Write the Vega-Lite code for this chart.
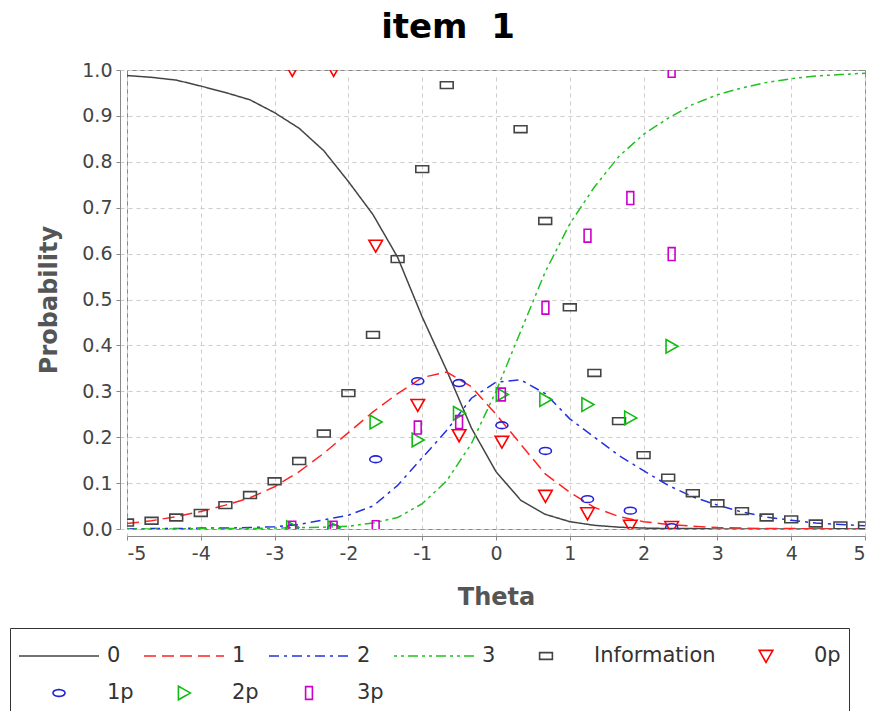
{
  "$schema": "https://vega.github.io/schema/vega-lite/v6.json",
  "width": 738,
  "height": 459,
  "autosize": {"type": "none"},
  "padding": {"left": 127, "top": 70, "right": 10, "bottom": 182},
  "background": "white",
  "title": {"text": "item \u00a01", "fontSize": 34, "font": "DejaVu Sans", "fontWeight": "bold", "color": "black", "anchor": "middle", "dx": -48, "dy": 39, "offset": 28, "baseline": "alphabetic"},
  "datasets": {
    "curves": [
      {"t":-5,"p":0.988,"s":"0"},{"t":-4.667,"p":0.984,"s":"0"},{"t":-4.333,"p":0.978,"s":"0"},{"t":-4,"p":0.965,"s":"0"},{"t":-3.667,"p":0.951,"s":"0"},{"t":-3.333,"p":0.935,"s":"0"},{"t":-3,"p":0.907,"s":"0"},{"t":-2.667,"p":0.873,"s":"0"},{"t":-2.333,"p":0.824,"s":"0"},{"t":-2,"p":0.757,"s":"0"},{"t":-1.667,"p":0.685,"s":"0"},{"t":-1.333,"p":0.592,"s":"0"},{"t":-1,"p":0.462,"s":"0"},{"t":-0.667,"p":0.345,"s":"0"},{"t":-0.333,"p":0.22,"s":"0"},{"t":0,"p":0.125,"s":"0"},{"t":0.333,"p":0.063,"s":"0"},{"t":0.667,"p":0.032,"s":"0"},{"t":1,"p":0.016,"s":"0"},{"t":1.333,"p":0.008,"s":"0"},{"t":1.667,"p":0.004,"s":"0"},{"t":2,"p":0.002,"s":"0"},{"t":2.333,"p":0.001,"s":"0"},{"t":2.667,"p":0.001,"s":"0"},{"t":3,"p":0,"s":"0"},{"t":3.333,"p":0,"s":"0"},{"t":3.667,"p":0,"s":"0"},{"t":4,"p":0,"s":"0"},{"t":4.333,"p":0,"s":"0"},{"t":4.667,"p":0,"s":"0"},{"t":5,"p":0,"s":"0"},
      {"t":-5,"p":0.012,"s":"1"},{"t":-4.667,"p":0.018,"s":"1"},{"t":-4.333,"p":0.027,"s":"1"},{"t":-4,"p":0.038,"s":"1"},{"t":-3.667,"p":0.052,"s":"1"},{"t":-3.333,"p":0.068,"s":"1"},{"t":-3,"p":0.092,"s":"1"},{"t":-2.667,"p":0.125,"s":"1"},{"t":-2.333,"p":0.165,"s":"1"},{"t":-2,"p":0.21,"s":"1"},{"t":-1.667,"p":0.255,"s":"1"},{"t":-1.333,"p":0.295,"s":"1"},{"t":-1,"p":0.33,"s":"1"},{"t":-0.667,"p":0.342,"s":"1"},{"t":-0.333,"p":0.31,"s":"1"},{"t":0,"p":0.25,"s":"1"},{"t":0.333,"p":0.185,"s":"1"},{"t":0.667,"p":0.12,"s":"1"},{"t":1,"p":0.08,"s":"1"},{"t":1.333,"p":0.047,"s":"1"},{"t":1.667,"p":0.027,"s":"1"},{"t":2,"p":0.016,"s":"1"},{"t":2.333,"p":0.01,"s":"1"},{"t":2.667,"p":0.006,"s":"1"},{"t":3,"p":0.003,"s":"1"},{"t":3.333,"p":0.002,"s":"1"},{"t":3.667,"p":0.001,"s":"1"},{"t":4,"p":0.001,"s":"1"},{"t":4.333,"p":0,"s":"1"},{"t":4.667,"p":0,"s":"1"},{"t":5,"p":0,"s":"1"},
      {"t":-5,"p":0,"s":"2"},{"t":-4.667,"p":0.001,"s":"2"},{"t":-4.333,"p":0.001,"s":"2"},{"t":-4,"p":0.002,"s":"2"},{"t":-3.667,"p":0.002,"s":"2"},{"t":-3.333,"p":0.003,"s":"2"},{"t":-3,"p":0.005,"s":"2"},{"t":-2.667,"p":0.01,"s":"2"},{"t":-2.333,"p":0.02,"s":"2"},{"t":-2,"p":0.03,"s":"2"},{"t":-1.667,"p":0.05,"s":"2"},{"t":-1.333,"p":0.095,"s":"2"},{"t":-1,"p":0.155,"s":"2"},{"t":-0.667,"p":0.215,"s":"2"},{"t":-0.333,"p":0.285,"s":"2"},{"t":0,"p":0.32,"s":"2"},{"t":0.333,"p":0.325,"s":"2"},{"t":0.667,"p":0.295,"s":"2"},{"t":1,"p":0.24,"s":"2"},{"t":1.333,"p":0.2,"s":"2"},{"t":1.667,"p":0.16,"s":"2"},{"t":2,"p":0.127,"s":"2"},{"t":2.333,"p":0.095,"s":"2"},{"t":2.667,"p":0.07,"s":"2"},{"t":3,"p":0.052,"s":"2"},{"t":3.333,"p":0.037,"s":"2"},{"t":3.667,"p":0.026,"s":"2"},{"t":4,"p":0.019,"s":"2"},{"t":4.333,"p":0.013,"s":"2"},{"t":4.667,"p":0.01,"s":"2"},{"t":5,"p":0.007,"s":"2"},
      {"t":-5,"p":0,"s":"3"},{"t":-4.667,"p":0,"s":"3"},{"t":-4.333,"p":0,"s":"3"},{"t":-4,"p":0.001,"s":"3"},{"t":-3.667,"p":0.001,"s":"3"},{"t":-3.333,"p":0.001,"s":"3"},{"t":-3,"p":0.002,"s":"3"},{"t":-2.667,"p":0.003,"s":"3"},{"t":-2.333,"p":0.004,"s":"3"},{"t":-2,"p":0.006,"s":"3"},{"t":-1.667,"p":0.013,"s":"3"},{"t":-1.333,"p":0.025,"s":"3"},{"t":-1,"p":0.055,"s":"3"},{"t":-0.667,"p":0.105,"s":"3"},{"t":-0.333,"p":0.186,"s":"3"},{"t":0,"p":0.3,"s":"3"},{"t":0.333,"p":0.43,"s":"3"},{"t":0.667,"p":0.56,"s":"3"},{"t":1,"p":0.665,"s":"3"},{"t":1.333,"p":0.745,"s":"3"},{"t":1.667,"p":0.812,"s":"3"},{"t":2,"p":0.86,"s":"3"},{"t":2.333,"p":0.895,"s":"3"},{"t":2.667,"p":0.925,"s":"3"},{"t":3,"p":0.946,"s":"3"},{"t":3.333,"p":0.961,"s":"3"},{"t":3.667,"p":0.973,"s":"3"},{"t":4,"p":0.981,"s":"3"},{"t":4.333,"p":0.987,"s":"3"},{"t":4.667,"p":0.99,"s":"3"},{"t":5,"p":0.993,"s":"3"}
    ],
    "markers": [
      {"t":-5,"p":0.014,"s":"Information"},{"t":-4.667,"p":0.018,"s":"Information"},{"t":-4.333,"p":0.025,"s":"Information"},{"t":-4,"p":0.035,"s":"Information"},{"t":-3.667,"p":0.052,"s":"Information"},{"t":-3.333,"p":0.074,"s":"Information"},{"t":-3,"p":0.104,"s":"Information"},{"t":-2.667,"p":0.148,"s":"Information"},{"t":-2.333,"p":0.208,"s":"Information"},{"t":-2,"p":0.296,"s":"Information"},{"t":-1.667,"p":0.423,"s":"Information"},{"t":-1.333,"p":0.588,"s":"Information"},{"t":-1,"p":0.784,"s":"Information"},{"t":-0.667,"p":0.967,"s":"Information"},{"t":0.333,"p":0.871,"s":"Information"},{"t":0.667,"p":0.671,"s":"Information"},{"t":1,"p":0.483,"s":"Information"},{"t":1.333,"p":0.34,"s":"Information"},{"t":1.667,"p":0.235,"s":"Information"},{"t":2,"p":0.161,"s":"Information"},{"t":2.333,"p":0.112,"s":"Information"},{"t":2.667,"p":0.078,"s":"Information"},{"t":3,"p":0.056,"s":"Information"},{"t":3.333,"p":0.039,"s":"Information"},{"t":3.667,"p":0.025,"s":"Information"},{"t":4,"p":0.021,"s":"Information"},{"t":4.333,"p":0.012,"s":"Information"},{"t":4.667,"p":0.008,"s":"Information"},{"t":5,"p":0.008,"s":"Information"},
      {"t":-2.76,"p":1.0,"s":"0p"},{"t":-2.2,"p":1.0,"s":"0p"},{"t":-1.63,"p":0.617,"s":"0p"},{"t":-1.06,"p":0.27,"s":"0p"},{"t":-0.5,"p":0.204,"s":"0p"},{"t":0.08,"p":0.19,"s":"0p"},{"t":0.67,"p":0.072,"s":"0p"},{"t":1.24,"p":0.034,"s":"0p"},{"t":1.82,"p":0.007,"s":"0p"},{"t":2.38,"p":0.004,"s":"0p"},
      {"t":-2.76,"p":0.002,"s":"1p"},{"t":-2.2,"p":0.002,"s":"1p"},{"t":-1.63,"p":0.152,"s":"1p"},{"t":-1.06,"p":0.322,"s":"1p"},{"t":-0.5,"p":0.318,"s":"1p"},{"t":0.08,"p":0.226,"s":"1p"},{"t":0.67,"p":0.17,"s":"1p"},{"t":1.24,"p":0.065,"s":"1p"},{"t":1.82,"p":0.04,"s":"1p"},{"t":2.38,"p":0.004,"s":"1p"},
      {"t":-2.76,"p":0.003,"s":"2p"},{"t":-2.2,"p":0.003,"s":"2p"},{"t":-1.63,"p":0.233,"s":"2p"},{"t":-1.06,"p":0.194,"s":"2p"},{"t":-0.5,"p":0.252,"s":"2p"},{"t":0.08,"p":0.293,"s":"2p"},{"t":0.67,"p":0.282,"s":"2p"},{"t":1.24,"p":0.271,"s":"2p"},{"t":1.82,"p":0.242,"s":"2p"},{"t":2.38,"p":0.398,"s":"2p"},
      {"t":-2.76,"p":0.003,"s":"3p"},{"t":-2.2,"p":0.003,"s":"3p"},{"t":-1.63,"p":0.004,"s":"3p"},{"t":-1.06,"p":0.221,"s":"3p"},{"t":-0.5,"p":0.233,"s":"3p"},{"t":0.08,"p":0.293,"s":"3p"},{"t":0.67,"p":0.482,"s":"3p"},{"t":1.24,"p":0.639,"s":"3p"},{"t":1.82,"p":0.721,"s":"3p"},{"t":2.38,"p":0.599,"s":"3p"},{"t":2.38,"p":0.998,"s":"3p"}
    ]
  },
  "layer": [
    {
      "data": {"name": "curves"},
      "mark": {"type": "line", "strokeWidth": 1.5, "clip": true},
      "encoding": {
        "x": {"field": "t", "type": "quantitative", "scale": {"domain": [-5, 5], "nice": false, "zero": false},
              "axis": {"title": "Theta", "values": [-5,-4,-3,-2,-1,0,1,2,3,4,5], "format": "d", "labelExpr": "replace(datum.label, '\u2212', '-')"}},
        "y": {"field": "p", "type": "quantitative", "scale": {"domain": [0, 1], "nice": false},
              "axis": {"title": "Probability", "values": [0,0.1,0.2,0.3,0.4,0.5,0.6,0.7,0.8,0.9,1], "format": ".1f"}},
        "stroke": {"field": "s", "type": "nominal",
          "scale": {"domain": ["0","1","2","3","Information","0p","1p","2p","3p"],
                    "range": ["#444444","#FF2222","#2233DD","#22C022","#444444","#FF0000","#2222DD","#11BB11","#CC00CC"]},
          "legend": {"title": null, "orient": "none", "legendX": -117, "legendY": 558, "direction": "horizontal", "columns": 6, "gridAlign": "none", "clipHeight": 40, "symbolSize": 6400}},
        "strokeDash": {"field": "s", "type": "nominal",
          "scale": {"domain": ["0","1","2","3","Information","0p","1p","2p","3p"],
                    "range": [[1,0],[12,6],[10,5,3,5],[3,4,3,4,10,4],[1,0],[1,0],[1,0],[1,0],[1,0]]},
          "legend": {"title": null, "orient": "none", "legendX": -117, "legendY": 558, "direction": "horizontal", "columns": 6, "gridAlign": "none", "clipHeight": 40, "symbolSize": 6400}}
      }
    },
    {
      "data": {"name": "markers"},
      "mark": {"type": "point", "filled": false, "size": 6400, "strokeWidth": 1.6, "opacity": 1, "clip": true},
      "encoding": {
        "x": {"field": "t", "type": "quantitative"},
        "y": {"field": "p", "type": "quantitative"},
        "stroke": {"field": "s", "type": "nominal"},
        "shape": {"field": "s", "type": "nominal",
          "scale": {"domain": ["0","1","2","3","Information","0p","1p","2p","3p"],
                    "range": ["M-1,0L1,0","M-1,0L1,0","M-1,0L1,0","M-1,0L1,0",
                              "M-0.16,-0.085L0.16,-0.085L0.16,0.085L-0.16,0.085Z",
                              "M-0.17,-0.14L0.17,-0.14L0,0.16Z",
                              "M-0.15,0A0.15,0.085 0 1,0 0.15,0A0.15,0.085 0 1,0 -0.15,0Z",
                              "M-0.14,-0.17L0.16,0L-0.14,0.17Z",
                              "M-0.085,-0.16L0.085,-0.16L0.085,0.16L-0.085,0.16Z"]},
          "legend": {"title": null, "orient": "none", "legendX": -117, "legendY": 558, "direction": "horizontal", "columns": 6, "gridAlign": "none", "clipHeight": 40, "symbolSize": 6400}}
      }
    }
  ],
  "config": {
    "font": "DejaVu Sans",
    "view": {"stroke": "#888888", "strokeWidth": 1},
    "axis": {
      "labelFont": "DejaVu Sans", "labelFontSize": 19, "labelColor": "#444444",
      "titleFont": "DejaVu Sans", "titleFontSize": 24, "titleFontWeight": "bold", "titleColor": "#555555",
      "domainColor": "#888888", "tickColor": "#888888", "tickSize": 4, "offset": 7,
      "gridColor": "#CCCCCC", "gridDash": [4, 4], "gridWidth": 1, "labelPadding": 4
    },
    "axisX": {"titlePadding": 22},
    "axisY": {"titlePadding": 20},
    "legend": {
      "labelFont": "DejaVu Sans", "labelFontSize": 21, "labelColor": "#333333", "labelOffset": 7, "labelLimit": 300,
      "columnPadding": 9, "rowPadding": -3, "padding": 8, "strokeColor": "#333333", "fillColor": "white",
      "symbolStrokeWidth": 1.6, "symbolFillColor": "transparent", "symbolOffset": 0
    }
  }
}
